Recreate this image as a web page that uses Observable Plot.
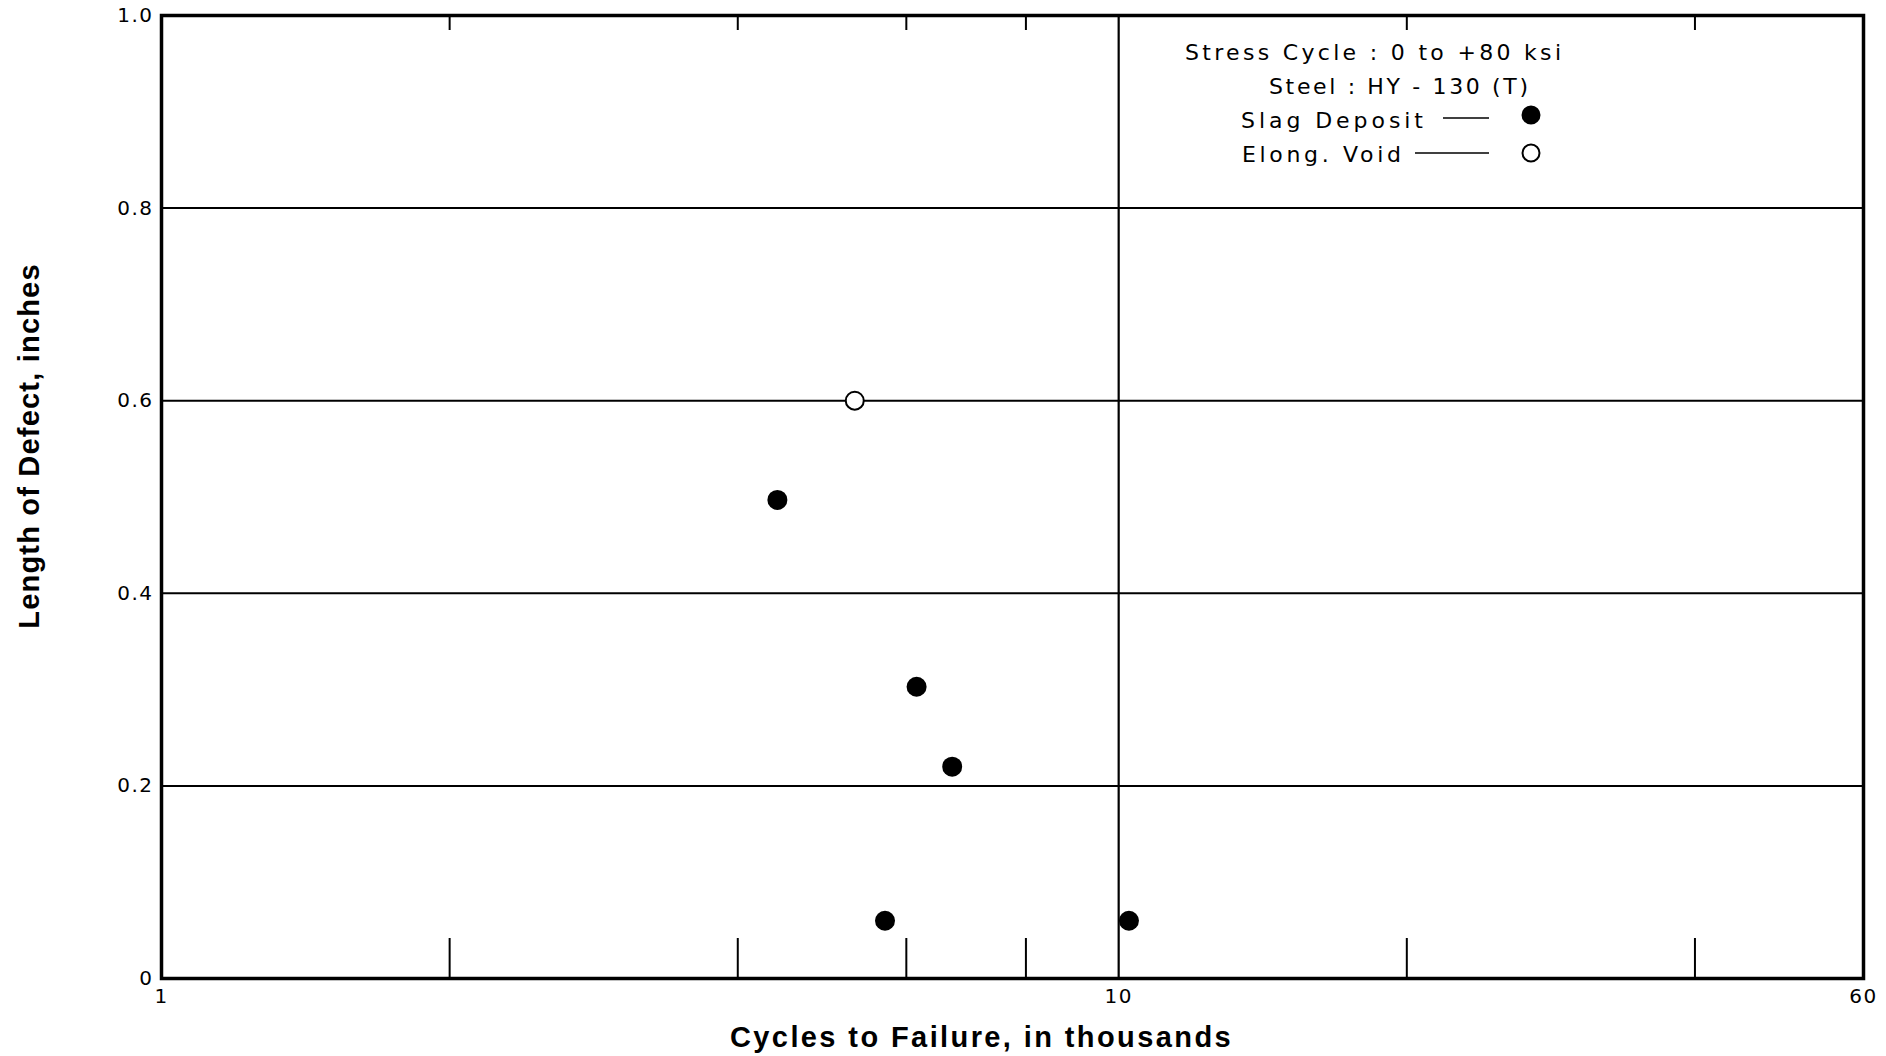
<!DOCTYPE html>
<html><head><meta charset="utf-8">
<script src="https://cdn.jsdelivr.net/npm/d3@7"></script>
<script src="https://cdn.jsdelivr.net/npm/@observablehq/plot@0.6"></script>
<style>
html,body{margin:0;padding:0;background:#fff;}
#wrap{position:relative;width:1886px;height:1056px;}
#legend{position:absolute;left:0;top:0;pointer-events:none;}
g[aria-label$="tick label"] text{letter-spacing:1.5px;}
</style></head><body>
<div id="wrap"><div id="chart"></div><svg id="legend" width="1886" height="1056"></svg></div>
<script>
// Data
const slagCycles = [4.4, 6.15, 6.7, 5.7, 10.25];     // thousands of cycles
const slagLength = [0.497, 0.303, 0.22, 0.06, 0.06]; // inches
const voidCycles = [5.3];
const voidLength = [0.60];
const xLabelTicks = [1, 10, 60];
const xMinorTicks = [2, 4, 6, 8, 20, 40];
const xGrid = [10];
const yTicks = [0, 0.2, 0.4, 0.6, 0.8, 1.0];
const yGrid = [0.2, 0.4, 0.6, 0.8];
const xTitle = "Cycles to Failure, in thousands";
const yTitle = "Length of Defect, inches";
const legendHeader = ["Stress Cycle : 0 to +80 ksi", "Steel : HY - 130 (T)"];
const legendSeries = ["Slag Deposit", "Elong. Void"];

const slag = slagCycles.map((x, i) => ({x, y: slagLength[i]}));
const voids = voidCycles.map((x, i) => ({x, y: voidLength[i]}));

const titleFont = "'Liberation Sans', Arial, sans-serif";
const chart = Plot.plot({
  width: 1886, height: 1056,
  marginLeft: 161, marginRight: 23, marginTop: 15, marginBottom: 78,
  style: {fontFamily: "'DejaVu Sans', sans-serif", fontSize: "20px", color: "#000", background: "#fff"},
  x: {type: "log", domain: [1, 60]},
  y: {domain: [0, 1]},
  marks: [
    Plot.ruleY(yGrid, {stroke: "#000", strokeWidth: 2}),
    Plot.ruleX(xGrid, {stroke: "#000", strokeWidth: 2.2}),
    Plot.axisX(xMinorTicks, {anchor: "bottom", tickSize: -40, tickFormat: () => "", strokeWidth: 2, label: null}),
    Plot.axisX(xMinorTicks, {anchor: "top", tickSize: -14, tickFormat: () => "", strokeWidth: 2, label: null}),
    Plot.axisX(xLabelTicks, {anchor: "bottom", tickSize: 0, tickPadding: 10, tickFormat: d => String(d), label: null}),
    Plot.axisY(yTicks, {anchor: "left", tickSize: 0, tickPadding: 8, tickFormat: d => d === 0 ? "0" : d.toFixed(1), label: null}),
    Plot.frame({stroke: "#000", strokeWidth: 3.5}),
    Plot.dot(slag, {x: "x", y: "y", r: 10, fill: "#000", stroke: "none"}),
    Plot.dot(voids, {x: "x", y: "y", r: 9, fill: "#fff", stroke: "#000", strokeWidth: 2}),
    Plot.text([xTitle], {text: d => d, frameAnchor: "bottom", textAnchor: "middle", dx: -31, dy: 59, lineAnchor: "middle",
      fontSize: 29, fontWeight: "bold", fontFamily: titleFont, fill: "#000"}),
    Plot.text([yTitle], {text: d => d, frameAnchor: "left", textAnchor: "middle", rotate: -90, dx: -132, dy: -51, lineAnchor: "middle",
      fontSize: 29, fontWeight: "bold", fontFamily: titleFont, fill: "#000"})
  ]
});
document.getElementById("chart").appendChild(chart);
// letter spacing for the axis titles (lettered look of the original)
d3.select(chart).selectAll("g[aria-label='text'] text").each(function() {
  const t = d3.select(this);
  t.style("letter-spacing", t.text() === xTitle ? "2.4px" : "1.2px");
});

// Legend overlay
const lg = d3.select("#legend");
const lfont = "'DejaVu Sans', sans-serif";
const headerRows = [
  {t: legendHeader[0], x: 1185, w: 376, y: 60},
  {t: legendHeader[1], x: 1269, w: 259, y: 94}
];
headerRows.forEach(r => {
  lg.append("text").attr("x", r.x).attr("y", r.y).attr("textLength", r.w).attr("lengthAdjust", "spacing")
    .attr("font-family", lfont).attr("font-size", 22).attr("fill", "#000").text(r.t);
});
const seriesRows = [
  {t: legendSeries[0], x: 1241, w: 182, y: 128, l1: 1443, ly: 118, filled: true, cy: 115},
  {t: legendSeries[1], x: 1242, w: 159, y: 162, l1: 1415, ly: 153, filled: false, cy: 153}
];
seriesRows.forEach(r => {
  lg.append("text").attr("x", r.x).attr("y", r.y).attr("textLength", r.w).attr("lengthAdjust", "spacing")
    .attr("font-family", lfont).attr("font-size", 22).attr("fill", "#000").text(r.t);
  lg.append("line").attr("x1", r.l1).attr("x2", 1489).attr("y1", r.ly).attr("y2", r.ly)
    .attr("stroke", "#000").attr("stroke-width", 1.5);
  lg.append("circle").attr("cx", 1531).attr("cy", r.cy).attr("r", r.filled ? 9.5 : 8.5)
    .attr("fill", r.filled ? "#000" : "#fff").attr("stroke", "#000").attr("stroke-width", r.filled ? 0 : 2);
});
</script>
</body></html>
